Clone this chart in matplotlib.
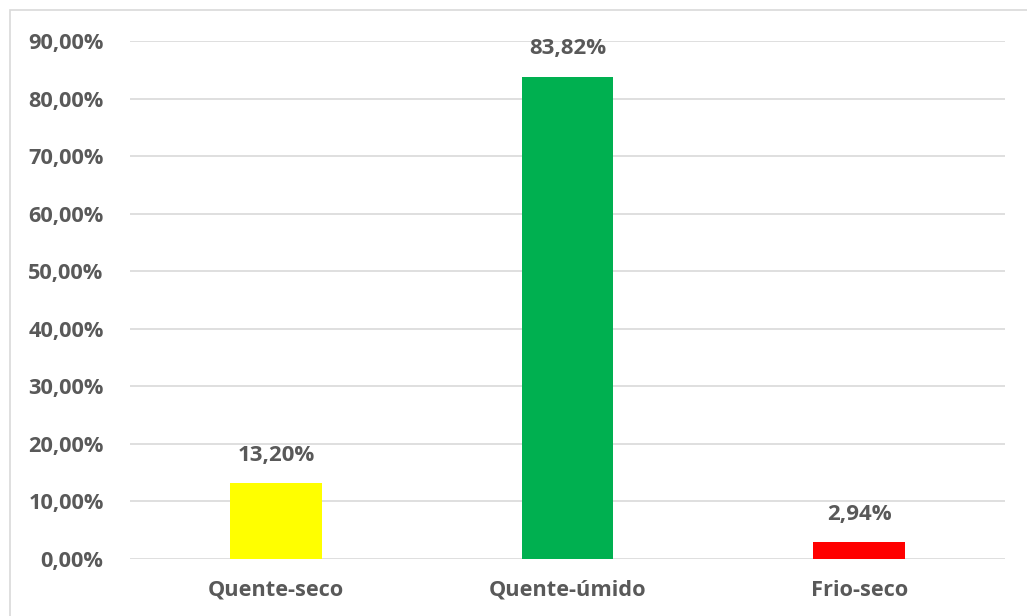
import matplotlib
matplotlib.use("Agg")
import matplotlib.pyplot as plt
from matplotlib.patches import Rectangle
from matplotlib.ticker import FuncFormatter

categories = ["Quente-seco", "Quente-úmido", "Frio-seco"]
values = [0.1320, 0.8382, 0.0294]
colors = ["#FFFF00", "#00B050", "#FF0000"]

plt.rcParams["font.family"] = ["Open Sans", "DejaVu Sans"]
text_color = "#595959"

fig = plt.figure(figsize=(10.27, 6.16), dpi=100)
fig.patch.set_facecolor("white")

# moldura cinza clara do gráfico
fig.patches.append(Rectangle((10 / 1027, -0.1), 1.2, 1 - 10 / 616 + 0.1,
                             transform=fig.transFigure, fill=False,
                             edgecolor="#D9D9D9", linewidth=1.2))

ax = fig.add_axes([130 / 1027, 1 - 559 / 616, 875 / 1027, (559 - 41) / 616])
x = range(len(categories))
ax.bar(x, values, width=0.315, color=colors, zorder=3)

for xi, v in zip(x, values):
    ax.annotate(f"{v * 100:.2f}%".replace(".", ","), (xi, v),
                xytext=(0, 20), textcoords="offset points",
                ha="center", va="center", fontsize=16,
                fontweight="bold", color=text_color)

ax.set_xlim(-0.5, 2.5)
ax.set_ylim(0, 0.9)
ax.set_yticks([i / 10 for i in range(10)])
ax.yaxis.set_major_formatter(FuncFormatter(lambda v, p: f"{v * 100:.2f}%".replace(".", ",")))
ax.set_xticks(list(x))
ax.set_xticklabels(categories)
ax.tick_params(axis="both", length=0, labelsize=15.7, labelcolor=text_color)
ax.tick_params(axis="y", pad=19)
ax.tick_params(axis="x", pad=15)
for lbl in ax.get_xticklabels() + ax.get_yticklabels():
    lbl.set_fontweight("bold")

ax.grid(axis="y", color="#D9D9D9", linewidth=1.2, zorder=0)
for s in ax.spines.values():
    s.set_visible(False)

fig.savefig("out.png", dpi=100)
